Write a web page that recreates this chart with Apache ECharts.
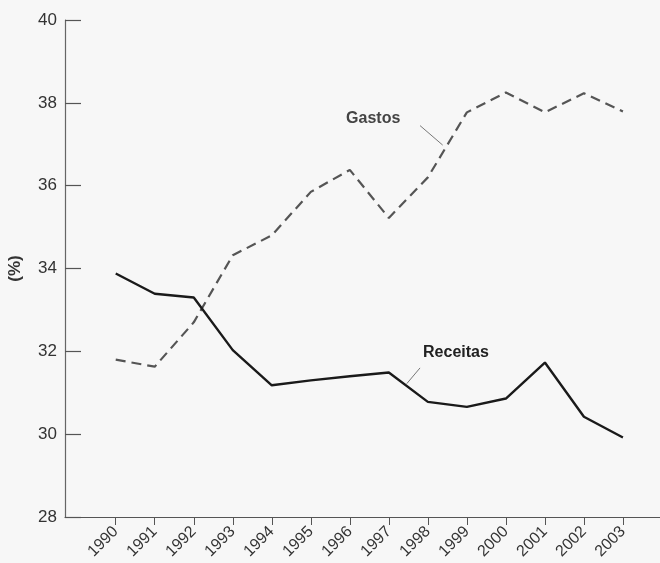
<!DOCTYPE html>
<html>
<head>
<meta charset="utf-8">
<script src="https://cdn.jsdelivr.net/npm/echarts@6/dist/echarts.min.js"></script>
<style>
  html, body { margin: 0; padding: 0; background: #f7f7f7; }
  #chart { width: 660px; height: 563px; }
</style>
</head>
<body>
<div id="chart"></div>
<script>
// Anos e séries (% do PIB)
const years = [1990, 1991, 1992, 1993, 1994, 1995, 1996, 1997, 1998, 1999, 2000, 2001, 2002, 2003];
const gastos = [31.8, 31.63, 32.7, 34.32, 34.8, 35.85, 36.38, 35.22, 36.2, 37.77, 38.25, 37.77, 38.23, 37.79];
const receitas = [33.88, 33.39, 33.3, 32.03, 31.18, 31.3, 31.4, 31.49, 30.78, 30.66, 30.86, 31.73, 30.42, 29.92];
const yTicks = [28, 30, 32, 34, 36, 38, 40];

// Rótulos das séries e suas linhas de chamada (coordenadas em ano / %)
const gastosLabelAt = [1996.6, 37.62];
const gastosLeader = [[1997.8, 37.45], [1998.38, 36.98]];
const receitasLabelAt = [1998.72, 31.98];
const receitasLeader = [[1997.8, 31.6], [1997.46, 31.22]];

const pair = (xs, ys) => xs.map((x, i) => [x, ys[i]]);

const textFont = 'Liberation Sans, Arial, Helvetica, sans-serif';

function seriesLabel(name, at, leader, color) {
  return {
    markPoint: {
      symbol: 'circle', symbolSize: 0, silent: true,
      label: { show: true, position: 'inside', formatter: name, fontFamily: textFont,
               fontSize: 16, fontWeight: 'bold', color: color },
      data: [{ coord: at }]
    },
    markLine: {
      silent: true, symbol: 'none',
      lineStyle: { type: 'solid', width: 1, color: '#777' },
      label: { show: false },
      data: [[{ coord: leader[0] }, { coord: leader[1] }]]
    }
  };
}

const chart = echarts.init(document.getElementById('chart'), null, { renderer: 'canvas' });
chart.setOption({
  backgroundColor: '#f7f7f7',
  animation: false,
  grid: { left: 65, right: 0, top: 20, bottom: 46, containLabel: false, outerBoundsMode: 'none' },
  xAxis: {
    type: 'value', min: 1988.7, max: 2003.95,
    axisLine: { show: true, lineStyle: { color: '#555', width: 1.2 } },
    axisTick: { show: true, customValues: years, length: 8, inside: false,
                lineStyle: { color: '#555', width: 1 } },
    axisLabel: { show: true, customValues: years, rotate: 45, margin: 12,
                 fontFamily: textFont, fontSize: 16, color: '#333',
                 formatter: v => String(v) },
    splitLine: { show: false }
  },
  yAxis: {
    type: 'value', min: 28, max: 40, interval: 2,
    name: '(%)', nameLocation: 'middle', nameRotate: 90, nameGap: 41,
    nameTextStyle: { fontFamily: textFont, fontSize: 17, fontWeight: 'bold', color: '#333' },
    axisLine: { show: true, lineStyle: { color: '#666', width: 1.2 } },
    axisTick: { show: true, customValues: yTicks, inside: true, length: 16,
                lineStyle: { color: '#555', width: 1.2 } },
    axisLabel: { show: true, margin: 8, fontFamily: textFont, fontSize: 17, color: '#333' },
    splitLine: { show: false }
  },
  series: [
    Object.assign({
      name: 'Gastos', type: 'line', data: pair(years, gastos),
      symbol: 'none', z: 3,
      lineStyle: { color: '#555', width: 2.2, type: [10, 6] }
    }, seriesLabel('Gastos', gastosLabelAt, gastosLeader, '#444')),
    Object.assign({
      name: 'Receitas', type: 'line', data: pair(years, receitas),
      symbol: 'none', z: 4,
      lineStyle: { color: '#1a1a1a', width: 2.4 }
    }, seriesLabel('Receitas', receitasLabelAt, receitasLeader, '#222'))
  ]
});
</script>
</body>
</html>
